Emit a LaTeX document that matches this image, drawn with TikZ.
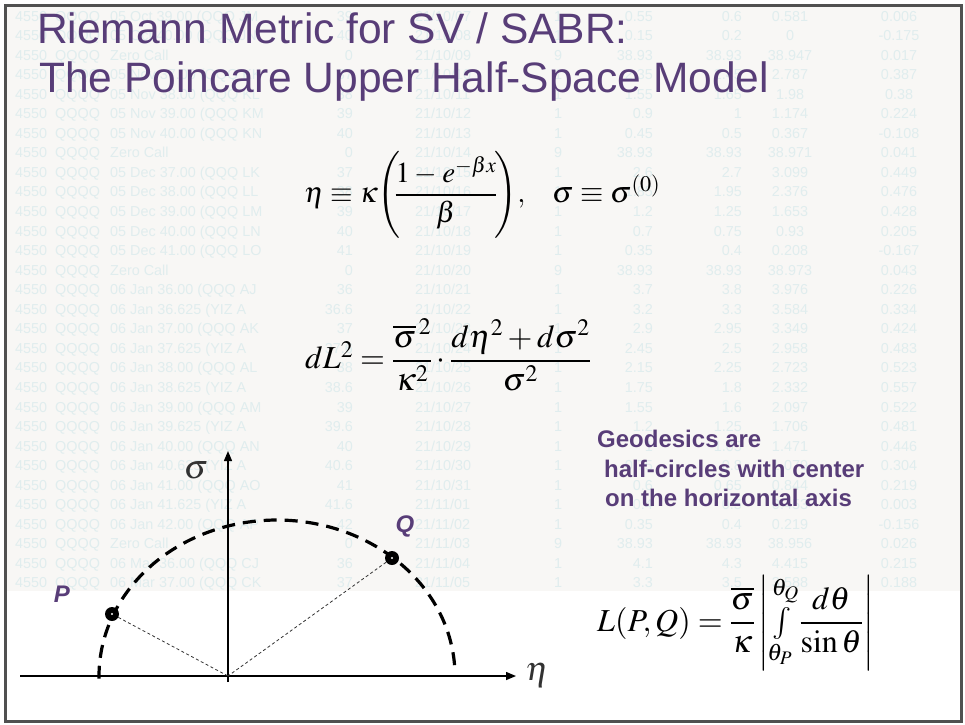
\documentclass[tikz,border=0pt]{standalone}
\usepackage{amsmath}
\usepackage{mathptmx}
\usepackage[no-math]{fontspec}
\setmainfont{Liberation Sans}
\usetikzlibrary{arrows.meta}
\definecolor{ttl}{RGB}{88,61,120}
\definecolor{tbl}{RGB}{224,237,238}
\definecolor{bgg}{RGB}{248,247,245}
\definecolor{frm}{RGB}{80,80,80}
\definecolor{axl}{RGB}{50,50,50}
\begin{document}
\begin{tikzpicture}[x=1pt,y=-1pt,
  tcell/.style={inner sep=0pt, text=tbl, font=\fontsize{14.4}{17}\selectfont},
  ttlst/.style={inner sep=0pt, text=ttl, font=\fontsize{42.5}{49}\selectfont, anchor=base west},
  geo/.style={inner sep=0pt, text=ttl, font=\bfseries\fontsize{24}{29}\selectfont, anchor=base west},
  fm/.style={inner sep=0pt, text=black},
  lbl/.style={inner sep=0pt, text=ttl, font=\bfseries\itshape\fontsize{24}{28}\selectfont},
  axlab/.style={inner sep=0pt, text=axl, font=\fontsize{34}{40}\selectfont},
  ptst/.style={circle, fill=black, minimum size=14pt, inner sep=0pt},
  axis/.style={line width=1.4pt, -{Triangle[length=10pt,width=8pt]}},
  geod/.style={line width=3.2pt, dash pattern=on 13pt off 8pt},
  radial/.style={line width=0.8pt, dash pattern=on 3pt off 2.5pt, color=black!80}]
\useasboundingbox (0,0) rectangle (965,724);
\fill[white] (0,0) rectangle (965,724);
\fill[bgg] (6,6) rectangle (960,591);
% faint background table
\foreach [count=\i] \ds/\k/\mo/\dd/\n/\b/\a/\t/\f in {%
05 Oct 39.00 (QQQ JM/39/10/07/1/0.55/0.6/0.581/0.006,%
05 Oct 40.00 (QQQ JN/40/10/08/1/0.15/0.2/0/-0.175,%
Zero Call/0/10/09/9/38.93/38.93/38.947/0.017,%
05 Nov 37.00 (QQQ KK/37/10/10/1/2.35/2.45/2.787/0.387,%
05 Nov 38.00 (QQQ KL/38/10/11/1/1.55/1.65/1.98/0.38,%
05 Nov 39.00 (QQQ KM/39/10/12/1/0.9/1/1.174/0.224,%
05 Nov 40.00 (QQQ KN/40/10/13/1/0.45/0.5/0.367/-0.108,%
Zero Call/0/10/14/9/38.93/38.93/38.971/0.041,%
05 Dec 37.00 (QQQ LK/37/10/15/1/2.6/2.7/3.099/0.449,%
05 Dec 38.00 (QQQ LL/38/10/16/1/1.85/1.95/2.376/0.476,%
05 Dec 39.00 (QQQ LM/39/10/17/1/1.2/1.25/1.653/0.428,%
05 Dec 40.00 (QQQ LN/40/10/18/1/0.7/0.75/0.93/0.205,%
05 Dec 41.00 (QQQ LO/41/10/19/1/0.35/0.4/0.208/-0.167,%
Zero Call/0/10/20/9/38.93/38.93/38.973/0.043,%
06 Jan 36.00 (QQQ AJ/36/10/21/1/3.7/3.8/3.976/0.226,%
06 Jan 36.625 (YIZ A/36.6/10/22/1/3.2/3.3/3.584/0.334,%
06 Jan 37.00 (QQQ AK/37/10/23/1/2.9/2.95/3.349/0.424,%
06 Jan 37.625 (YIZ A/37.6/10/24/1/2.45/2.5/2.958/0.483,%
06 Jan 38.00 (QQQ AL/38/10/25/1/2.15/2.25/2.723/0.523,%
06 Jan 38.625 (YIZ A/38.6/10/26/1/1.75/1.8/2.332/0.557,%
06 Jan 39.00 (QQQ AM/39/10/27/1/1.55/1.6/2.097/0.522,%
06 Jan 39.625 (YIZ A/39.6/10/28/1/1.2/1.25/1.706/0.481,%
06 Jan 40.00 (QQQ AN/40/10/29/1/1/1.05/1.471/0.446,%
06 Jan 40.625 (YIZ A/40.6/10/30/1/0.75/0.8/1.079/0.304,%
06 Jan 41.00 (QQQ AO/41/10/31/1/0.6/0.65/0.844/0.219,%
06 Jan 41.625 (YIZ A/41.6/11/01/1/0.4/0.5/0.453/0.003,%
06 Jan 42.00 (QQQ AP/42/11/02/1/0.35/0.4/0.219/-0.156,%
Zero Call/0/11/03/9/38.93/38.93/38.956/0.026,%
06 Mar 36.00 (QQQ CJ/36/11/04/1/4.1/4.3/4.415/0.215,%
06 Mar 37.00 (QQQ CK/37/11/05/1/3.3/3.5/3.588/0.188}{%
  \pgfmathsetmacro\yy{21+19.55*(\i-1)}
  \node[tcell,anchor=base west] (r\i c1) at (15,\yy) {4550};
  \node[tcell,anchor=base west] (r\i c2) at (55,\yy) {QQQQ};
  \node[tcell,anchor=base west] (r\i c3) at (110,\yy) {\ignorespaces\ds};
  \node[tcell,anchor=base east] (r\i c4) at (353,\yy) {\k};
  \node[tcell,anchor=base west] (r\i c5) at (415,\yy) {21/\mo/\dd};
  \node[tcell,anchor=base] (r\i c6) at (558,\yy) {\n};
  \node[tcell,anchor=base east] (r\i c7) at (653,\yy) {\b};
  \node[tcell,anchor=base east] (r\i c8) at (742,\yy) {\a};
  \node[tcell,anchor=base] (r\i c9) at (790,\yy) {\t};
  \node[tcell,anchor=base] (r\i c10) at (899,\yy) {\f};
}
% frame
\draw[frm, line width=3pt] (5.5,5.5) rectangle (961.5,721.5);
% title
\node[ttlst] (t1) at (37,43) {Riemann Metric for SV / SABR:};
\node[ttlst] (t2) at (39,92) {The Poincare Upper Half-Space Model};
% formulas
\node[fm, anchor=west, font=\fontsize{29}{35}\selectfont] (f1a) at (304,195)
  {\thickmuskip=4mu \medmuskip=3mu $\eta\equiv\kappa\!\left(\vcenter{\hbox{\rule{0pt}{3.15em}}}\!\!\dfrac{1-e^{-\beta x}}{\beta}\!\right)\!,$};
\node[fm, anchor=base west, font=\fontsize{30}{36}\selectfont] (f1b) at (552,202.5)
  {$\sigma\equiv\sigma^{(0)}$};
\node[fm, anchor=west, font=\fontsize{32}{38}\selectfont] (f2) at (305,355)
  {$dL^2=\dfrac{\overline{\sigma}^{\,2}}{\kappa^2}\cdot\dfrac{d\eta^2+d\sigma^2}{\sigma^2}$};
\node[fm, anchor=west, font=\fontsize{32}{39}\selectfont] (f3) at (597,623)
  {$L(P,Q)=\dfrac{\overline{\sigma}}{\kappa}\left|\int\limits_{\theta_P}^{\theta_Q}\dfrac{d\theta}{\sin\theta}\right|$};
% geodesics text
\node[geo] (g1) at (597,447) {Geodesics are};
\node[geo] (g2) at (604,477) {half-circles with center};
\node[geo] (g3) at (605,506) {on the horizontal axis};
% axes
\coordinate (O) at (228,676);
\coordinate (hs) at (20,676);
\coordinate (ht) at (516,676);
\coordinate (vs) at (228,682);
\coordinate (vt) at (228,451);
\draw[axis] (hs) -- (ht);
\draw[axis] (vs) -- (vt);
\node[axlab] (eta) at (537,675) {$\eta$};
\node[axlab] (sig) at (196,470) {$\sigma$};
% geodesic (half-ellipse as drawn)
\draw[geod] plot[domain=4:181, samples=120] ({277+178*cos(\x)}, {676-156*sin(\x)});
% points
\node[ptst] (P) at (112,614) {};
\node[ptst] (Q) at (392,558) {};
\fill[white] (P.center) circle (1.2);
\fill[white] (Q.center) circle (1.2);
\draw[radial] (P) -- (O);
\draw[radial] (Q) -- (O);
\node[lbl] (Pl) at (62,594) {P};
\node[lbl] (Ql) at (405,526) {Q};
\end{tikzpicture}
\end{document}
